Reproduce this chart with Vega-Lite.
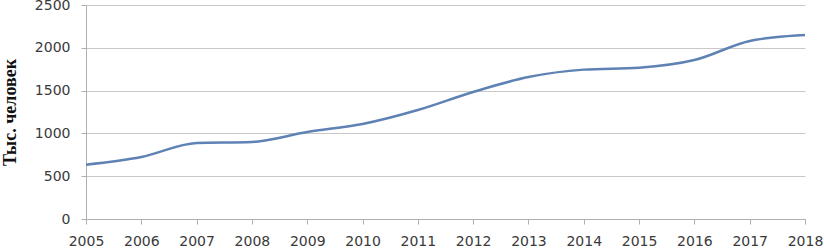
{
  "$schema": "https://vega.github.io/schema/vega-lite/v6.json",
  "autosize": "none",
  "width": 719,
  "height": 214,
  "padding": {"left": 86, "top": 5, "right": 19, "bottom": 29},
  "background": "white",
  "config": {"view": {"stroke": null}},
  "data": {"values": [
    {"year": 2005, "value": 635},
    {"year": 2006, "value": 724},
    {"year": 2007, "value": 888},
    {"year": 2008, "value": 900},
    {"year": 2009, "value": 1016},
    {"year": 2010, "value": 1110},
    {"year": 2011, "value": 1273},
    {"year": 2012, "value": 1484},
    {"year": 2013, "value": 1659},
    {"year": 2014, "value": 1745},
    {"year": 2015, "value": 1768},
    {"year": 2016, "value": 1857},
    {"year": 2017, "value": 2080},
    {"year": 2018, "value": 2150}
  ]},
  "mark": {"type": "line", "interpolate": "monotone", "color": "#5f82b5", "strokeWidth": 2.5},
  "encoding": {
    "x": {
      "field": "year", "type": "quantitative",
      "scale": {"domain": [2005, 2018], "nice": false, "zero": false},
      "axis": {
        "title": null, "values": [2005,2006,2007,2008,2009,2010,2011,2012,2013,2014,2015,2016,2017,2018],
        "format": "d", "grid": false, "domainColor": "#b0b0b0", "tickColor": "#b0b0b0", "tickSize": 5,
        "labelFont": "DejaVu Sans", "labelFontSize": 14, "labelColor": "#3a3a3a", "labelPadding": 10,
        "labelFlush": false, "labelOverlap": false
      }
    },
    "y": {
      "field": "value", "type": "quantitative",
      "scale": {"domain": [0, 2500], "nice": false},
      "axis": {
        "title": "Тыс. человек", "titleFont": "Liberation Serif", "titleFontWeight": "bold", "titleFontSize": 18,
        "titleColor": "#111111", "titlePadding": 15,
        "values": [0, 500, 1000, 1500, 2000, 2500], "format": "d",
        "grid": true, "gridColor": "#c8c8c8", "domainColor": "#b0b0b0", "tickColor": "#b0b0b0", "tickSize": 5,
        "labelFont": "DejaVu Sans", "labelFontSize": 14, "labelColor": "#3a3a3a", "labelPadding": 11,
        "labelFlush": false, "labelOverlap": false
      }
    }
  }
}
